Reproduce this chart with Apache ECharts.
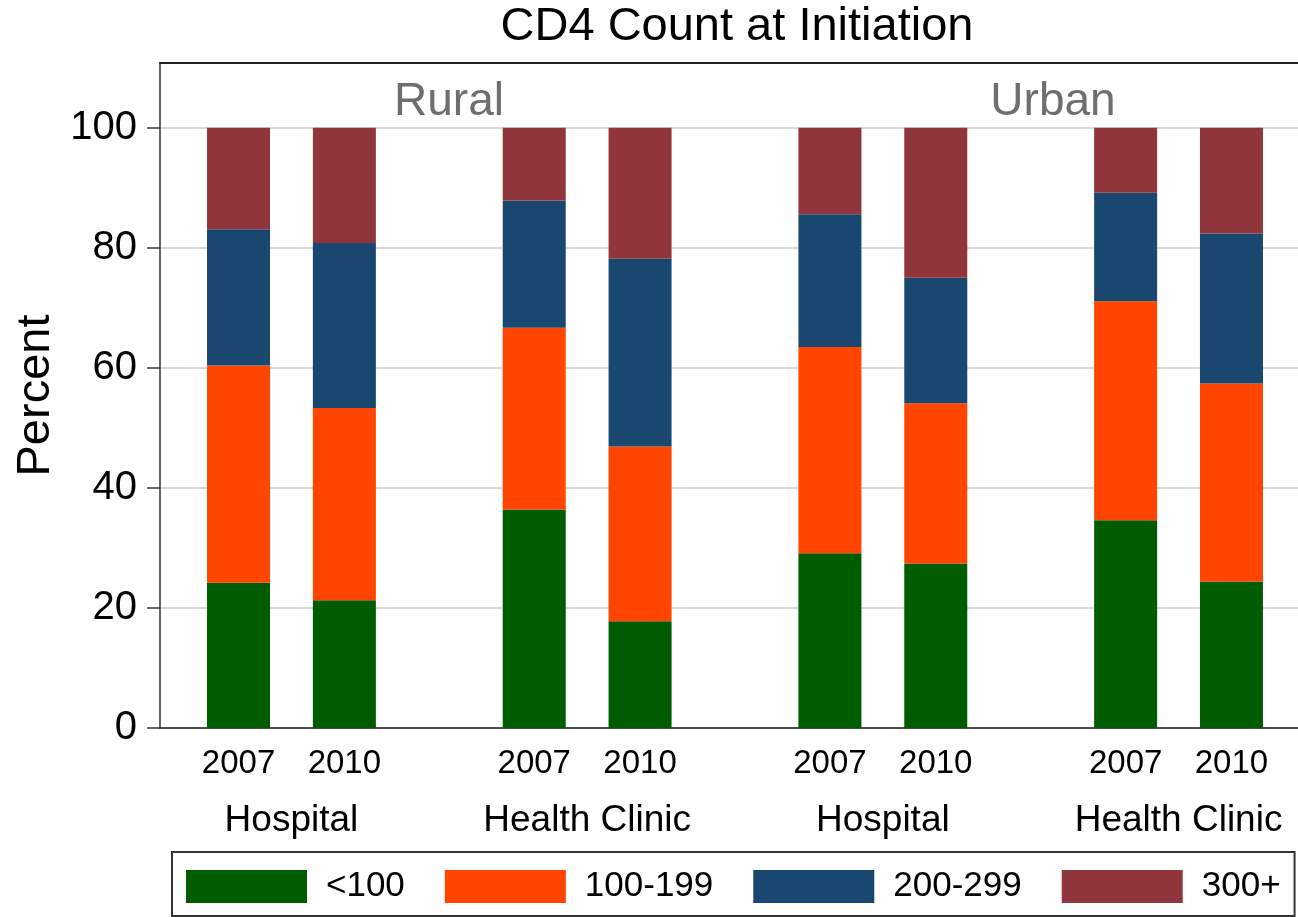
<!DOCTYPE html>
<html>
<head>
<meta charset="utf-8">
<script src="https://cdn.jsdelivr.net/npm/echarts@6/dist/echarts.min.js"></script>
<style>
  html, body { margin: 0; padding: 0; background: #fff; }
  #chart { width: 1298px; height: 917px; }
</style>
</head>
<body>
<div id="chart"></div>
<script>
const years = ['2007', '2010']
const regions = ['Rural', 'Urban']
const facilities = ['Hospital', 'Health Clinic']
const bands = ['<100', '100-199', '200-299', '300+']
const yTicks = [0, 20, 40, 60, 80, 100]

// percent per band, groups: Rural Hospital, Rural Health Clinic, Urban Hospital, Urban Health Clinic
const lt100_2007 = [24.2, 36.4, 29.1, 34.6]
const b100_2007 = [36.2, 30.3, 34.4, 36.5]
const b200_2007 = [22.7, 21.2, 22.1, 18.1]
const b300_2007 = [16.9, 12.1, 14.4, 10.8]

const lt100_2010 = [21.3, 17.8, 27.4, 24.4]
const b100_2010 = [32.0, 29.1, 26.7, 33.0]
const b200_2010 = [27.5, 31.3, 20.9, 25.0]
const b300_2010 = [19.2, 21.8, 25.0, 17.6]

const byYear = {
  '2007': [lt100_2007, b100_2007, b200_2007, b300_2007],
  '2010': [lt100_2010, b100_2010, b200_2010, b300_2010]
}
const colors = ['#005c00', '#ff4500', '#1a476f', '#90353b']
const font = "'Liberation Sans', Arial, sans-serif"

const categories = regions.flatMap(() => facilities)

const series = []
years.forEach(year => {
  bands.forEach((band, i) => {
    series.push({
      type: 'bar',
      name: band,
      stack: year,
      xAxisIndex: 2,
      yAxisIndex: 1,
      barWidth: 63,
      barGap: '68%',
      color: colors[i],
      silent: true,
      data: byYear[year][i],
      label: i === 0 ? {
        show: true,
        position: 'bottom',
        distance: 19,
        formatter: () => year,
        fontSize: 33,
        fontFamily: font,
        color: '#000'
      } : {show: false}
    })
  })
})

const chart = echarts.init(document.getElementById('chart'))
chart.setOption({
  animation: false,
  title: [
    {
      text: 'CD4 Count at Initiation',
      left: 737,
      top: 4,
      textAlign: 'center',
      padding: 0,
      textStyle: {fontSize: 47, fontWeight: 'normal', fontFamily: font, color: '#000'}
    },
    {
      text: regions[0],
      left: 449,
      top: 79,
      textAlign: 'center',
      padding: 0,
      textStyle: {fontSize: 46, fontWeight: 'normal', fontFamily: font, color: '#6e6e6e'}
    },
    {
      text: regions[1],
      left: 1053,
      top: 79,
      textAlign: 'center',
      padding: 0,
      textStyle: {fontSize: 46, fontWeight: 'normal', fontFamily: font, color: '#6e6e6e'}
    }
  ],
  legend: {
    data: bands,
    left: 172,
    top: 852,
    padding: [17, 14, 12, 14],
    itemWidth: 121,
    itemHeight: 33,
    itemGap: 40,
    icon: 'rect',
    selectedMode: false,
    borderColor: '#333',
    borderWidth: 2,
    textStyle: {fontSize: 35, fontFamily: font, color: '#000', padding: [0, 0, 0, 14]}
  },
  grid: [
    // frame, runs past the right edge like the cropped original
    {left: 160, width: 1170, top: 63, bottom: 189, outerBoundsMode: 'none'},
    // bars
    {left: 143.6, width: 1182.8, top: 63, bottom: 189, outerBoundsMode: 'none'}
  ],
  xAxis: [
    {
      gridIndex: 0,
      type: 'value',
      position: 'bottom',
      axisLine: {show: true, lineStyle: {color: '#222', width: 1.5}},
      axisTick: {show: false},
      axisLabel: {show: false},
      splitLine: {show: false}
    },
    {
      gridIndex: 0,
      type: 'value',
      position: 'top',
      axisLine: {show: true, lineStyle: {color: '#222', width: 2}},
      axisTick: {show: false},
      axisLabel: {show: false},
      splitLine: {show: false}
    },
    {
      gridIndex: 1,
      type: 'category',
      data: categories,
      axisLine: {show: false},
      axisTick: {show: false},
      axisLabel: {margin: 74, fontSize: 37, fontFamily: font, color: '#000'}
    }
  ],
  yAxis: [
    {
      gridIndex: 0,
      type: 'value',
      min: 0,
      max: 110.8,
      interval: 20,
      name: 'Percent',
      nameLocation: 'middle',
      nameRotate: 90,
      nameGap: 98,
      nameTextStyle: {fontSize: 47, fontFamily: font, color: '#000'},
      axisLine: {show: true, lineStyle: {color: '#333', width: 1.5}},
      axisTick: {show: true, length: 13, customValues: yTicks, lineStyle: {color: '#333', width: 1.5}},
      axisLabel: {margin: 23, fontSize: 40, fontFamily: font, color: '#000', customValues: yTicks},
      splitLine: {show: true, lineStyle: {color: '#dadada', width: 2}}
    },
    {
      gridIndex: 1,
      type: 'value',
      min: 0,
      max: 110.8,
      show: false
    }
  ],
  series
})
</script>
</body>
</html>
